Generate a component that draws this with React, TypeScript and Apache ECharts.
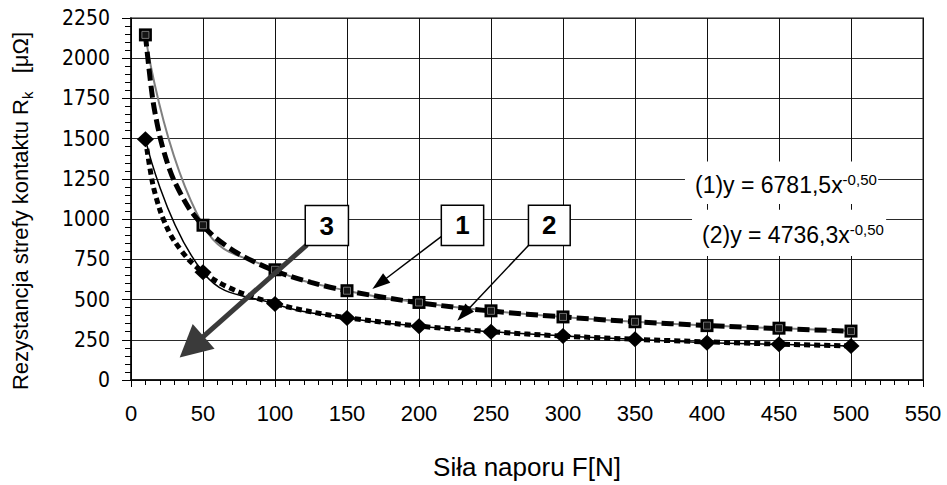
import React, { useEffect, useRef } from 'react';
import * as echarts from 'echarts';

// Measured points (force F [N] vs. contact resistance [µΩ])
const forceValues = [10, 50, 100, 150, 200, 250, 300, 350, 400, 450, 500];
const resistance1 = [2145, 962, 685, 555, 482, 430, 392, 362, 338, 322, 304];
const resistance2 = [1497, 670, 472, 386, 334, 300, 274, 253, 232, 222, 211];

// Trend lines
const trendForce = [10, 15, 20, 25, 30, 40, 50, 60, 75, 100, 125, 150, 200, 250, 300, 350, 400, 450, 500];
const trend1 = [2145, 1751, 1516, 1356, 1238, 1072, 959, 875, 783, 678, 607, 554, 480, 429, 392, 362, 339, 320, 303];
const trend2 = [1498, 1223, 1059, 947, 865, 749, 670, 611, 547, 474, 424, 387, 335, 300, 273, 253, 237, 223, 212];

const equation1 = '(1)y = 6781,5x';
const equation2 = '(2)y = 4736,3x';
const exponentText = '-0,50';
const xTitle = 'Siła naporu F[N]';
const yTitleMain = 'Rezystancja strefy kontaktu R';
const yTitleSub = 'k';
const yTitleUnit = '[μΩ]';

const FONT = '"Liberation Sans", Arial, Helvetica, sans-serif';
const NARROW = '"Liberation Sans Narrow", "Arial Narrow", "DejaVu Sans Condensed", sans-serif';

function pairs(xs: number[], ys: number[]) {
  return xs.map((x, i) => [x, ys[i]]);
}

function arrow(from: number[], to: number[], color: string, width: number, headLen: number, headW: number) {
  const dx = to[0] - from[0];
  const dy = to[1] - from[1];
  const len = Math.hypot(dx, dy);
  const ux = dx / len;
  const uy = dy / len;
  const bx = to[0] - ux * headLen;
  const by = to[1] - uy * headLen;
  const px = -uy;
  const py = ux;
  return [
    { type: 'line', z: 100, shape: { x1: from[0], y1: from[1], x2: bx + ux * 2, y2: by + uy * 2 }, style: { stroke: color, lineWidth: width } },
    {
      type: 'polygon', z: 100,
      shape: { points: [[to[0], to[1]], [bx + px * headW / 2, by + py * headW / 2], [bx - px * headW / 2, by - py * headW / 2]] },
      style: { fill: color },
    },
  ];
}

export default function App() {
  const ref = useRef<HTMLDivElement>(null);
  useEffect(() => {
    if (!ref.current) return;
    const chart = echarts.init(ref.current, null, { renderer: 'svg' });
    chart.setOption({
      animation: false,
      backgroundColor: '#fff',
      grid: { left: 131, right: 24, top: 18, bottom: 92, show: true, borderColor: '#8a8a8a', borderWidth: 2, backgroundColor: 'transparent' },
      xAxis: {
        type: 'value', min: 0, max: 550, interval: 50,
        axisLine: { show: true, lineStyle: { color: '#000', width: 1.5 } },
        axisTick: { show: true, inside: false, length: 7, lineStyle: { color: '#000' } },
        minorTick: { show: true, splitNumber: 5, length: 5, lineStyle: { color: '#000' } },
        splitLine: { show: true, lineStyle: { color: '#111', width: 1 } },
        axisLabel: { fontFamily: FONT, fontSize: 22, color: '#000', margin: 22, formatter: (v: number) => String(v) },
        name: xTitle, nameLocation: 'middle', nameGap: 74,
        nameTextStyle: { fontFamily: FONT, fontSize: 26, color: '#000' },
      },
      yAxis: {
        type: 'value', min: 0, max: 2250, interval: 250,
        axisLine: { show: true, lineStyle: { color: '#000', width: 1.5 } },
        axisTick: { show: true, inside: false, length: 9, lineStyle: { color: '#000' } },
        minorTick: { show: true, splitNumber: 5, length: 6, lineStyle: { color: '#000' } },
        splitLine: { show: true, lineStyle: { color: '#2a2a2a', width: 1 } },
        axisLabel: { fontFamily: NARROW, fontSize: 21, color: '#000', margin: 21, formatter: (v: number) => String(v) },
      },
      series: [
        {
          name: 'trend1', type: 'line', data: pairs(trendForce, trend1), smooth: 0.3, symbol: 'none', z: 4,
          lineStyle: { color: '#000', width: 5, type: [12, 5] },
        },
        {
          name: 'trend2', type: 'line', data: pairs(trendForce, trend2), smooth: 0.3, symbol: 'none', z: 4,
          lineStyle: { color: '#000', width: 5, type: [6, 4] },
        },
        {
          name: 'data1', type: 'line', data: pairs(forceValues, resistance1), smooth: 0.45, z: 3,
          lineStyle: { color: '#808080', width: 2 },
          symbol: 'rect', symbolSize: 13, itemStyle: { color: '#000', borderColor: '#000', borderWidth: 0 },
        },
        {
          name: 'data1inner', type: 'scatter', data: pairs(forceValues, resistance1), z: 6,
          symbol: 'rect', symbolSize: 7, itemStyle: { color: '#1a1a1a', borderColor: '#8a8a8a', borderWidth: 1 },
        },
        {
          name: 'data2', type: 'line', data: pairs(forceValues, resistance2), smooth: 0.45, z: 3,
          lineStyle: { color: '#000', width: 1.5 },
          symbol: 'diamond', symbolSize: [17, 16], itemStyle: { color: '#000' },
        },
      ],
    });

    const p = (x: number, y: number) => chart.convertToPixel({ gridIndex: 0 }, [x, y]) as number[];

    const numBox = (label: string, a: number[], b: number[]) => {
      const p1 = p(a[0], a[1]);
      const p2 = p(b[0], b[1]);
      return [
        { type: 'rect', z: 100, shape: { x: p1[0], y: p1[1], width: p2[0] - p1[0], height: p2[1] - p1[1] }, style: { fill: '#fff', stroke: '#000', lineWidth: 1.5 } },
        {
          type: 'text', z: 101, x: (p1[0] + p2[0]) / 2, y: (p1[1] + p2[1]) / 2,
          style: { text: label, fontFamily: FONT, fontWeight: 'bold', fontSize: 26, fill: '#000', align: 'center', verticalAlign: 'middle' },
        },
      ];
    };

    const eqBox = (label: string, a: number[], b: number[]) => {
      const p1 = p(a[0], a[1]);
      const p2 = p(b[0], b[1]);
      return [
        { type: 'rect', z: 90, shape: { x: p1[0], y: p1[1], width: p2[0] - p1[0], height: p2[1] - p1[1] }, style: { fill: '#fff', stroke: 'none' } },
        {
          type: 'text', z: 91, x: p1[0] + 10, y: (p1[1] + p2[1]) / 2 + 2,
          style: {
            text: label + '{sup|' + exponentText + '}',
            fontFamily: FONT, fontSize: 23, fill: '#000', align: 'left', verticalAlign: 'middle',
            lineHeight: 26,
            rich: { sup: { fontFamily: FONT, fontSize: 15, fill: '#000', lineHeight: 10, verticalAlign: 'top' } },
          },
        },
      ];
    };

    const a1 = arrow(p(217, 902), p(167.6, 566), '#000', 1.5, 18, 12);
    const a2 = arrow(p(276, 836), p(226.6, 368), '#000', 1.5, 18, 12);
    const a3 = arrow(p(122.2, 840), p(33.8, 140), '#3a3a3a', 5, 32, 33);

    chart.setOption({
      graphic: [
        ...eqBox(equation1, [384.7, 1358], [518.9, 1094]),
        ...eqBox(equation2, [389.6, 1058], [524.4, 770]),
        ...a1, ...a2, ...a3,
        ...numBox('3', [121, 1084], [151, 836]),
        ...numBox('1', [215.5, 1086], [244.9, 836]),
        ...numBox('2', [276, 1086], [305, 836]),
        {
          type: 'text', z: 100, x: 22, y: 211, rotation: Math.PI / 2,
          style: {
            text: '{m|' + yTitleMain + '}{sub|' + yTitleSub + '}' + '{m|   ' + yTitleUnit + '}',
            fontFamily: FONT, fontSize: 22, fill: '#000', align: 'center', verticalAlign: 'middle',
            rich: {
              m: { fontFamily: FONT, fontSize: 22, fill: '#000', lineHeight: 26, verticalAlign: 'top' },
              sub: { fontFamily: FONT, fontSize: 15, fill: '#000', lineHeight: 26, verticalAlign: 'bottom' },
            },
          },
        },
      ],
    });
    return () => chart.dispose();
  }, []);
  return <div ref={ref} style={{ position: 'fixed', left: 0, top: 0, width: 947, height: 485 }} />;
}
